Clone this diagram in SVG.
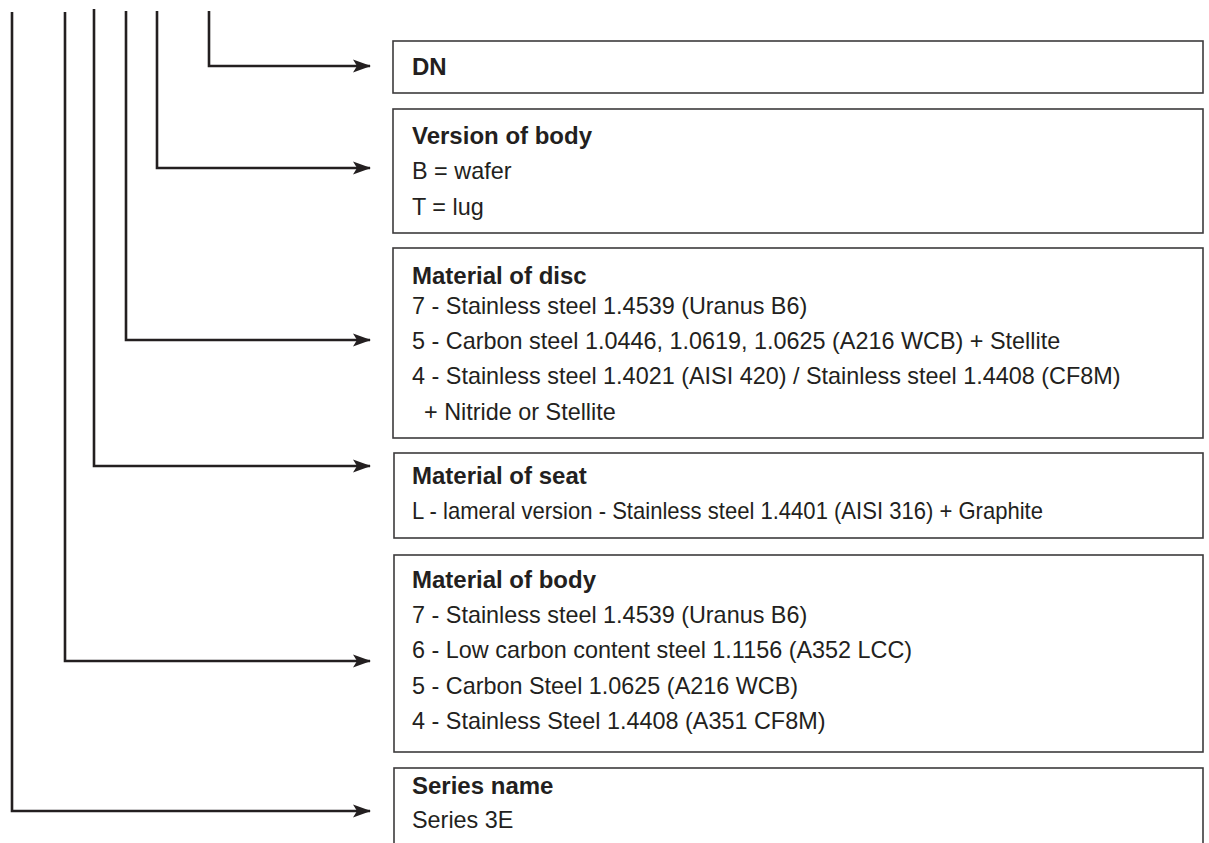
<svg xmlns="http://www.w3.org/2000/svg" width="1209" height="843" viewBox="0 0 1209 843">
<style>
.box{fill:#fff;stroke:#3d3b3c;stroke-width:1.6}
.t{font-family:"Liberation Sans",Arial,sans-serif;font-size:23.4px;fill:#231f20}
.h{font-family:"Liberation Sans",Arial,sans-serif;font-size:24px;font-weight:bold;fill:#231f20}
.c{fill:none;stroke:#231f20;stroke-width:2.6;marker-end:url(#arr)}
</style>
<defs>
<marker id="arr" markerUnits="userSpaceOnUse" markerWidth="20" markerHeight="14" refX="18" refY="7" orient="auto" viewBox="0 0 20 14">
<path d="M19,7 L1,0.5 L5,7 L1,13.5 Z" fill="#231f20"/>
</marker>
</defs>
<rect width="1209" height="843" fill="#fff"/>
<g id="connectors">
<path class="c" d="M209,11 V66 H370"/>
<path class="c" d="M157,11 V168 H370"/>
<path class="c" d="M126,11 V340 H370"/>
<path class="c" d="M94,9 V466 H370"/>
<path class="c" d="M65,12 V661 H370"/>
<path class="c" d="M12,12 V811 H370"/>
</g>
<g id="dn">
<rect class="box" x="393" y="41" width="810" height="52"/>
<text class="h" x="412" y="75">DN</text>
</g>
<g id="version">
<rect class="box" x="393" y="109" width="810" height="124"/>
<text class="h" x="412" y="144">Version of body</text>
<text class="t" x="412" y="179">B = wafer</text>
<text class="t" x="412" y="215">T = lug</text>
</g>
<g id="disc">
<rect class="box" x="393" y="248" width="810" height="190"/>
<text class="h" x="412" y="284">Material of disc</text>
<text class="t" x="412" y="314">7 - Stainless steel 1.4539 (Uranus B6)</text>
<text class="t" x="412" y="349">5 - Carbon steel 1.0446, 1.0619, 1.0625 (A216 WCB) + Stellite</text>
<text class="t" x="412" y="384">4 - Stainless steel 1.4021 (AISI 420) / Stainless steel 1.4408 (CF8M)</text>
<text class="t" x="424" y="420">+ Nitride or Stellite</text>
</g>
<g id="seat">
<rect class="box" x="394" y="453" width="809" height="85"/>
<text class="h" x="412" y="484">Material of seat</text>
<text class="t" x="412" y="519" textLength="631" lengthAdjust="spacingAndGlyphs">L - lameral version - Stainless steel 1.4401 (AISI 316) + Graphite</text>
</g>
<g id="body">
<rect class="box" x="394" y="555" width="809" height="197"/>
<text class="h" x="412" y="588">Material of body</text>
<text class="t" x="412" y="623">7 - Stainless steel 1.4539 (Uranus B6)</text>
<text class="t" x="412" y="658">6 - Low carbon content steel 1.1156 (A352 LCC)</text>
<text class="t" x="412" y="694">5 - Carbon Steel 1.0625 (A216 WCB)</text>
<text class="t" x="412" y="729">4 - Stainless Steel 1.4408 (A351 CF8M)</text>
</g>
<g id="series">
<rect class="box" x="394" y="768" width="809" height="90"/>
<text class="h" x="412" y="794">Series name</text>
<text class="t" x="412" y="828">Series 3E</text>
</g>
</svg>
